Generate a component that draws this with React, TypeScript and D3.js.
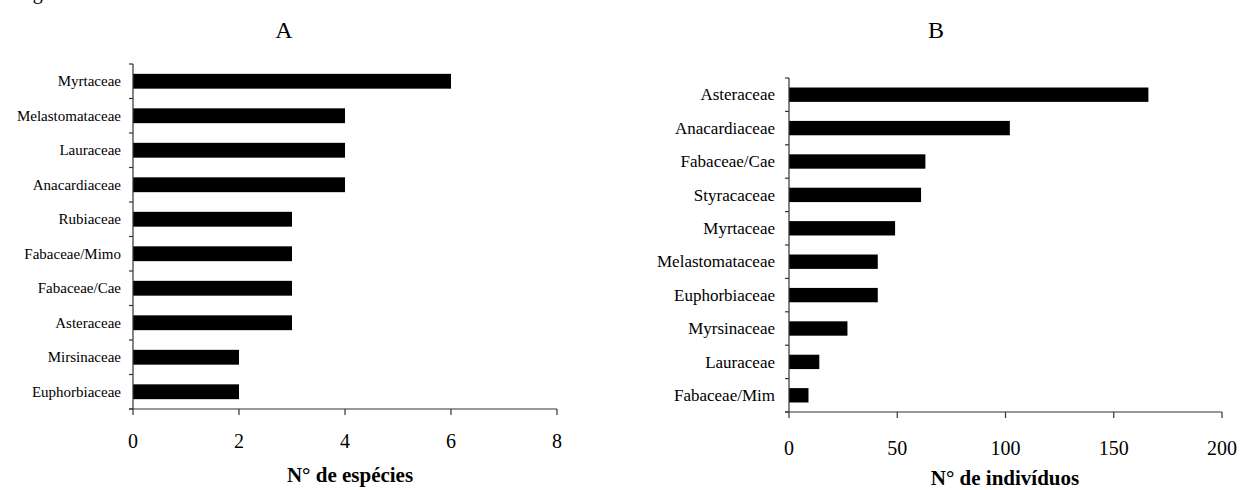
import * as React from 'react';
import { scaleBand, scaleLinear } from 'd3';

const famA = ['Myrtaceae', 'Melastomataceae', 'Lauraceae', 'Anacardiaceae', 'Rubiaceae',
  'Fabaceae/Mimo', 'Fabaceae/Cae', 'Asteraceae', 'Mirsinaceae', 'Euphorbiaceae'];
const especies = [6, 4, 4, 4, 3, 3, 3, 3, 2, 2];
const ticksA = [0, 2, 4, 6, 8];

const famB = ['Asteraceae', 'Anacardiaceae', 'Fabaceae/Cae', 'Styracaceae', 'Myrtaceae',
  'Melastomataceae', 'Euphorbiaceae', 'Myrsinaceae', 'Lauraceae', 'Fabaceae/Mim'];
const individuos = [166, 102, 63, 61, 49, 41, 41, 27, 14, 9];
const ticksB = [0, 50, 100, 150, 200];

const font = '"Liberation Serif", "Times New Roman", serif';

type PanelProps = {
  title: string; titleX: number;
  cats: string[]; vals: number[]; ticks: number[];
  x0: number; x1: number; y0: number; y1: number;
  labelSize: number; labelGap: number; tickOffset: number;
  axisTitle: string; axisTitleX: number; axisTitleY: number;
};

function Panel(p: PanelProps) {
  const x = scaleLinear().domain([p.ticks[0], p.ticks[p.ticks.length - 1]]).range([p.x0, p.x1]);
  const y = scaleBand<string>().domain(p.cats).range([p.y0, p.y1]).paddingInner(0.57).paddingOuter(0.285);
  const step = y.step();
  const bounds = p.cats.map((_, i) => p.y0 + i * step).concat([p.y1]);
  return (
    <g>
      <text x={p.titleX} y={38} textAnchor="middle" fontSize={24} fontFamily={font}>{p.title}</text>
      {p.cats.map((c, i) => (
        <g key={c}>
          <rect x={x(0)} y={y(c)} width={x(p.vals[i]) - x(0)} height={y.bandwidth()} fill="#000" />
          <text x={p.x0 - p.labelGap} y={y(c)! + y.bandwidth() / 2} dy="0.33em" textAnchor="end"
            fontSize={p.labelSize} fontFamily={font}>{c}</text>
        </g>
      ))}
      <line x1={p.x0} x2={p.x0} y1={p.y0} y2={p.y1} stroke="#333" strokeWidth={1.2} />
      {bounds.map((b, i) => (
        <line key={i} x1={p.x0 - 4} x2={p.x0} y1={b} y2={b} stroke="#333" strokeWidth={1.2} />
      ))}
      <line x1={p.x0 - 4} x2={p.x1} y1={p.y1} y2={p.y1} stroke="#333" strokeWidth={1.2} />
      {p.ticks.map(t => (
        <g key={t}>
          <line x1={x(t)} x2={x(t)} y1={p.y1} y2={p.y1 + 6} stroke="#333" strokeWidth={1.2} />
          <text x={x(t)} y={p.y1 + p.tickOffset} textAnchor="middle" fontSize={20} fontFamily={font}>{t}</text>
        </g>
      ))}
      <text x={p.axisTitleX} y={p.axisTitleY} textAnchor="middle" fontSize={21} fontWeight="bold"
        fontFamily={font}>{p.axisTitle}</text>
    </g>
  );
}

export default function App() {
  return (
    <div style={{ position: 'absolute', left: 0, top: 0 }}>
      <svg width={1240} height={490} style={{ display: 'block', background: '#fff' }}>
        <text x={16} y={-1} fontSize={20} fontFamily={font}>Figura 1</text>
        <Panel title="A" titleX={284} cats={famA} vals={especies} ticks={ticksA}
          x0={133} x1={557} y0={64} y1={409} labelSize={15} labelGap={12} tickOffset={39}
          axisTitle="N° de espécies" axisTitleX={350} axisTitleY={482} />
        <Panel title="B" titleX={936} cats={famB} vals={individuos} ticks={ticksB}
          x0={789} x1={1222} y0={78} y1={412} labelSize={17} labelGap={14} tickOffset={43}
          axisTitle="N° de indivíduos" axisTitleX={1005} axisTitleY={485} />
      </svg>
    </div>
  );
}
